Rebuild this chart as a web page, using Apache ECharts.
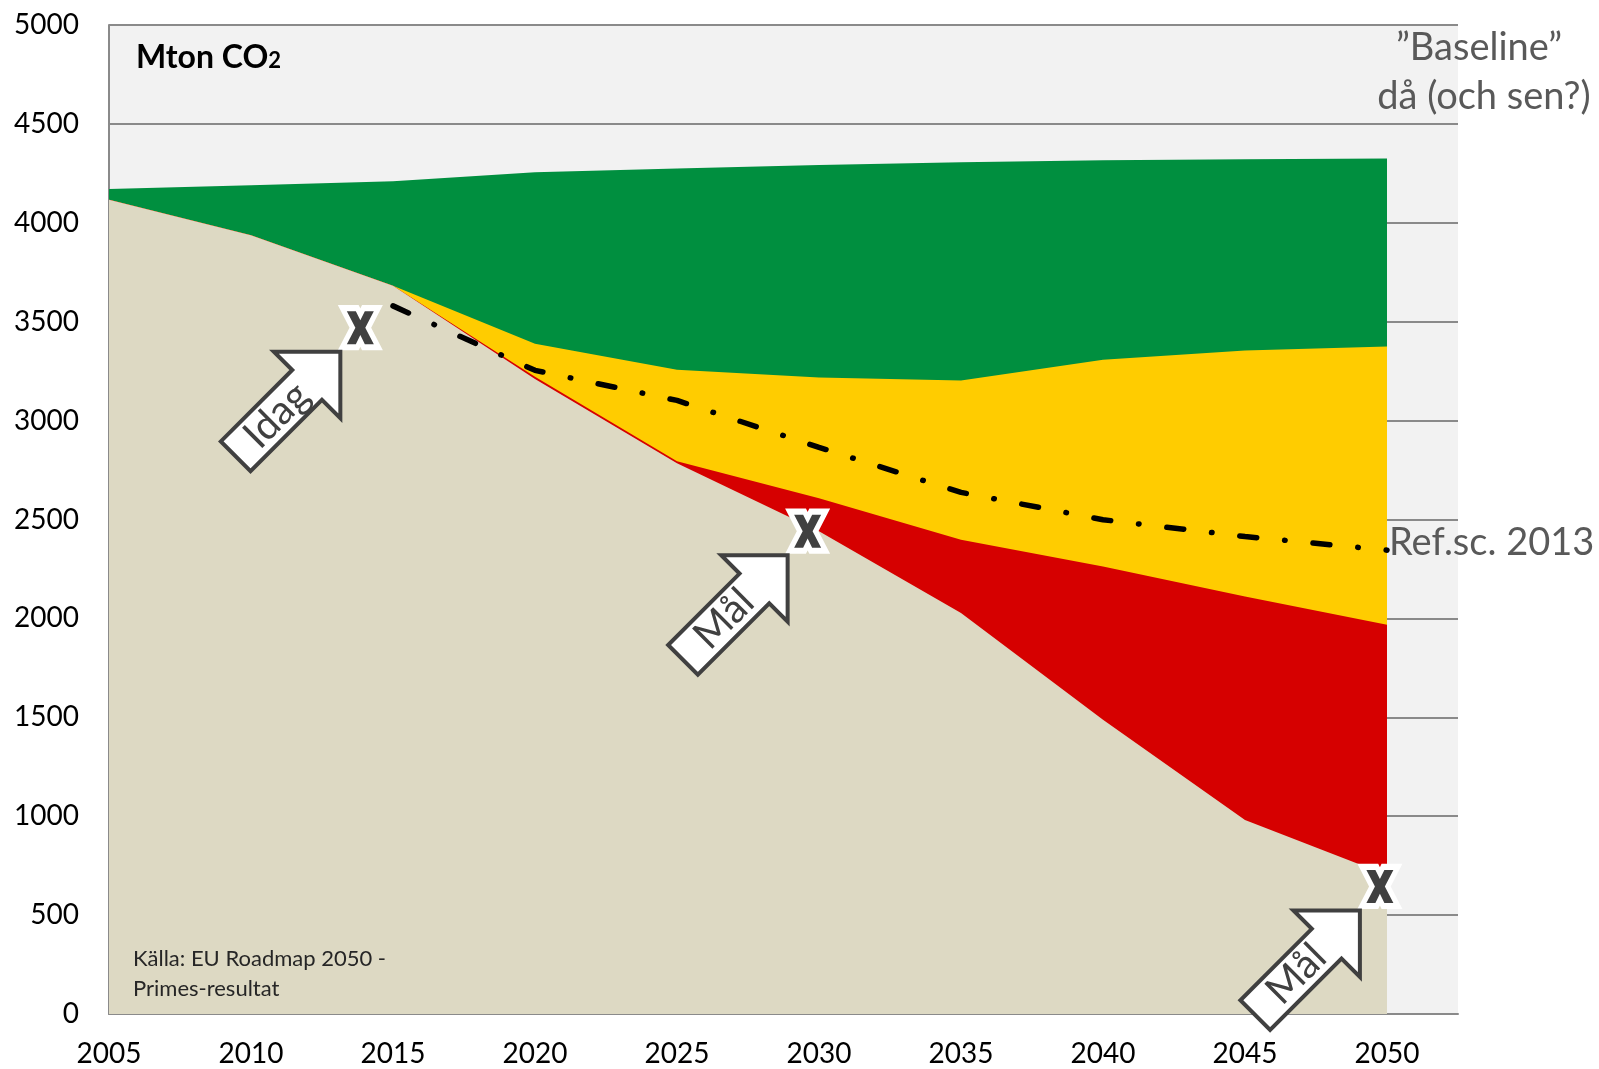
<!DOCTYPE html>
<html>
<head>
<meta charset="utf-8">
<title>Mton CO2</title>
<script src="https://cdn.jsdelivr.net/npm/echarts@6.0.0/dist/echarts.min.js"></script>
<style>
  html, body { margin: 0; padding: 0; background: #fff; }
  #chart { width: 1599px; height: 1069px; }
</style>
</head>
<body>
<div id="chart"></div>
<script>
// values (Mton CO2)
const years = [2005, 2010, 2015, 2020, 2025, 2030, 2035, 2040, 2045, 2050];
const baseline = [4171, 4190, 4210, 4255, 4275, 4292, 4306, 4316, 4321, 4325];
const yellowTop = [4117, 3937, 3682, 3389, 3257, 3218, 3203, 3308, 3355, 3374];
const redTop = [4117, 3937, 3682, 3222, 2795, 2608, 2398, 2262, 2111, 1968];
const target = [4117, 3937, 3682, 3210, 2785, 2440, 2027, 1487, 981, 703];

const refYears = [2015, 2020, 2025, 2030, 2035, 2040, 2045, 2050];
const refScenario = [3580, 3254, 3102, 2865, 2637, 2499, 2414, 2345];

const markerYears = [2013.85, 2029.6, 2049.75];
const markerValues = [3470, 2441, 645];
const markerLabels = ['Idag', 'Mål', 'Mål'];

const xTicks = [2005, 2010, 2015, 2020, 2025, 2030, 2035, 2040, 2045, 2050];

const FONT = 'Lato, "Open Sans", sans-serif';
const xPath = 'path://M0,0 L10,0 L15,10 L20,0 L30,0 L20.5,18 L30,36 L20,36 L15,26 L10,36 L0,36 L9.5,18 Z';
const arrowShape = [[0, 0], [-47, 47], [-47, 21], [-148, 21], [-148, -21], [-47, -21], [-47, -47]];

const chart = echarts.init(document.getElementById('chart'));

function area(name, values, color) {
  return {
    name: name,
    type: 'line',
    data: years.map((y, i) => [y, values[i]]),
    symbol: 'none',
    silent: true,
    lineStyle: { width: 0 },
    areaStyle: { color: color, opacity: 1 },
    z: 2
  };
}

const markerData = markerYears.map((y, i) => [y, markerValues[i]]);

chart.setOption({
  animation: false,
  grid: {
    left: 109, right: 141, top: 25, bottom: 55,
    show: true, backgroundColor: '#f2f2f2', borderWidth: 0,
    outerBoundsMode: 'none'
  },
  xAxis: {
    type: 'value',
    min: 2005, max: 2052.5, interval: 5,
    axisLine: { show: true, lineStyle: { color: '#8a8a8a', width: 2 } },
    axisTick: { show: false },
    splitLine: { show: false },
    axisLabel: {
      margin: 26, color: '#000', fontSize: 28, fontFamily: FONT,
      formatter: v => (xTicks.indexOf(v) >= 0 ? String(v) : '')
    }
  },
  yAxis: {
    type: 'value',
    min: 0, max: 5000, interval: 500,
    axisLine: { show: true, lineStyle: { color: '#8a8a8a', width: 2 } },
    axisTick: { show: false },
    splitLine: { show: true, lineStyle: { color: '#8a8a8a', width: 2 } },
    axisLabel: { margin: 30, color: '#000', fontSize: 28, fontFamily: FONT, formatter: v => String(v) }
  },
  series: [
    area('Baseline', baseline, '#008f3f'),
    area('Gul', yellowTop, '#ffcc00'),
    area('Röd', redTop, '#d60000'),
    area('Mål', target, '#ddd9c3'),
    {
      name: 'Ref.sc. 2013',
      type: 'line',
      data: refYears.map((y, i) => [y, refScenario[i]]),
      symbol: 'none',
      silent: true,
      z: 4,
      lineStyle: { color: '#000', width: 5.5, type: [17, 28, 0.5, 28], cap: 'round' },
      endLabel: {
        show: true, formatter: 'Ref.sc. 2013', distance: 2, offset: [0, -7],
        color: '#595959', fontSize: 38, fontFamily: FONT
      }
    },
    {
      type: 'scatter', data: markerData, symbol: xPath, symbolSize: [27, 33],
      silent: true, z: 5,
      itemStyle: { color: '#fff', borderColor: '#fff', borderWidth: 11, opacity: 1 }
    },
    {
      type: 'scatter', data: markerData, symbol: xPath, symbolSize: [27, 33],
      silent: true, z: 6,
      itemStyle: { color: '#404040', borderWidth: 0, opacity: 1 }
    }
  ]
});

// arrows pointing at the markers
const arrows = markerData.map((d, i) => {
  const p = chart.convertToPixel({ gridIndex: 0 }, d);
  return {
    type: 'group',
    x: p[0] - 20, y: p[1] + 24,
    rotation: Math.PI / 4,
    children: [
      { type: 'polygon', z: 30, shape: { points: arrowShape },
        style: { fill: '#fff', stroke: '#404040', lineWidth: 4 } },
      { type: 'text', z: 31, x: -90, y: 0,
        style: { text: markerLabels[i], font: '40px ' + FONT, fill: '#404040',
                 align: 'center', verticalAlign: 'middle',
                 textAlign: 'center', textVerticalAlign: 'middle' } }
    ]
  };
});

chart.setOption({
  graphic: arrows.concat([
    { type: 'text', x: 136, y: 58, z: 30,
      style: { text: '{a|Mton CO}{b|2}', verticalAlign: 'middle', textVerticalAlign: 'middle',
        rich: {
          a: { fontSize: 32, fontWeight: 'bold', fontFamily: FONT, fill: '#000', color: '#000' },
          b: { fontSize: 22, fontWeight: 'bold', fontFamily: FONT, fill: '#000', color: '#000', padding: [6, 0, 0, 0] }
        } } },
    { type: 'text', x: 133, y: 974, z: 30,
      style: { text: 'Källa: EU Roadmap 2050 -\nPrimes-resultat', font: '22px ' + FONT,
               lineHeight: 30, fill: '#262626', verticalAlign: 'middle', textVerticalAlign: 'middle' } },
    { type: 'text', x: 1479, y: 48, z: 30,
      style: { text: '”Baseline”', font: '38px ' + FONT, fill: '#595959',
               align: 'center', verticalAlign: 'middle', textAlign: 'center', textVerticalAlign: 'middle' } },
    { type: 'text', x: 1484, y: 97, z: 30,
      style: { text: 'då (och sen?)', font: '38px ' + FONT, fill: '#595959',
               align: 'center', verticalAlign: 'middle', textAlign: 'center', textVerticalAlign: 'middle' } }
  ])
});
</script>
</body>
</html>
